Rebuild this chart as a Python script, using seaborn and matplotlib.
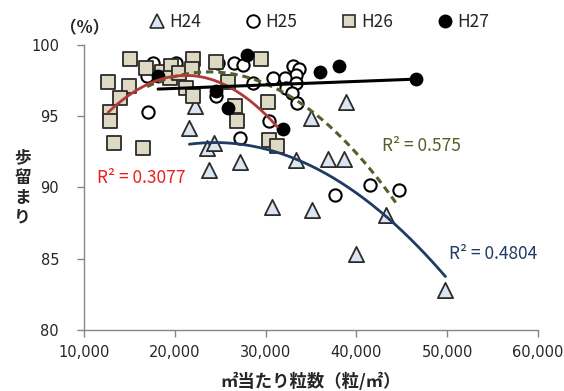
import numpy as np
import pandas as pd
import matplotlib
matplotlib.use("Agg")
import matplotlib.pyplot as plt
from matplotlib.lines import Line2D
from matplotlib.ticker import FuncFormatter
import seaborn as sns

# grains per m2 (x) and ripening ratio % (y), by year
h24_x = [22200, 21600, 23500, 24300, 23800, 27200, 30700, 35100, 33300, 35000,
         38800, 36900, 38600, 43200, 39900, 49800]
h24_y = [95.7, 94.2, 92.8, 93.1, 91.2, 91.8, 88.6, 88.4, 91.9, 94.9,
         96.0, 92.0, 92.0, 88.1, 85.3, 82.8]

h25_x = [17060, 17610, 16950, 20150, 24780, 26550, 27540, 24560, 28640, 30850,
         30410, 27210, 33050, 33710, 33380, 32170, 33380, 32280, 32940, 33490,
         37690, 41440, 44640]
h25_y = [95.3, 98.7, 97.8, 98.7, 98.7, 98.7, 98.6, 96.4, 97.3, 97.7,
         94.7, 93.5, 98.5, 98.3, 97.9, 97.7, 97.3, 97.0, 96.6, 95.9,
         89.5, 90.2, 89.8]

h26_x = [15070, 12650, 14960, 13970, 12870, 12870, 13310, 16510, 16840, 18600,
         19600, 19490, 20480, 22020, 21910, 21250, 22020, 24560, 29520, 25880,
         26660, 26880, 30300, 30410, 31290]
h26_y = [99.0, 97.4, 97.1, 96.3, 95.3, 94.7, 93.1, 92.8, 98.4, 98.1,
         98.5, 97.7, 98.0, 99.0, 98.3, 97.0, 96.4, 98.8, 99.0, 97.4,
         95.7, 94.7, 96.0, 93.3, 92.9]

h27_x = [18160, 24560, 25880, 27980, 31950, 36030, 38130, 46510]
h27_y = [97.8, 96.8, 95.6, 99.3, 94.1, 98.1, 98.5, 97.6]

years = ["H24", "H25", "H26", "H27"]
r2_labels = {"H24": "R² = 0.4804", "H25": "R² = 0.575", "H26": "R² = 0.3077"}

x_ticks = [10000, 20000, 30000, 40000, 50000, 60000]
y_ticks = [80, 85, 90, 95, 100]

sns.set_theme(style="white")
plt.rcParams["font.family"] = ["Noto Sans CJK JP", "DejaVu Sans"]

fig = plt.figure(figsize=(5.64, 3.91), dpi=100)
ax = fig.add_axes([0.149, 0.156, 0.805, 0.729])

series = {
    "H24": (h24_x, h24_y),
    "H25": (h25_x, h25_y),
    "H26": (h26_x, h26_y),
    "H27": (h27_x, h27_y),
}
marker_style = {
    "H24": dict(marker="^", s=120, color="#dce6f2", edgecolor="#2b2b2b", linewidth=1.3),
    "H25": dict(marker="o", s=78, color="white", edgecolor="black", linewidth=1.5),
    "H26": dict(marker="s", s=88, color="#ddd9c3", edgecolor="#2b2b2b", linewidth=1.3),
    "H27": dict(marker="o", s=80, color="black", edgecolor="black", linewidth=1.0),
}
trend_style = {
    "H24": dict(color="#1f3b63", linewidth=2.0, linestyle="-", deg=2),
    "H25": dict(color="#4f6228", linewidth=2.2, linestyle=(0, (2.4, 1.6)), deg=2),
    "H26": dict(color="#b03a3a", linewidth=2.0, linestyle="-", deg=2),
    "H27": dict(color="black", linewidth=2.2, linestyle="-", deg=1),
}

for yr in years:
    xs, ys = series[yr]
    df = pd.DataFrame({"x": xs, "y": ys})
    sns.scatterplot(data=df, x="x", y="y", ax=ax, zorder=3, **marker_style[yr])

# least-squares trend lines over each year's range
for yr in years:
    xs, ys = series[yr]
    st = trend_style[yr]
    coef = np.polyfit(xs, ys, st["deg"])
    gx = np.linspace(min(xs), max(xs), 200)
    line = pd.DataFrame({"x": gx, "y": np.polyval(coef, gx)})
    sns.lineplot(data=line, x="x", y="y", ax=ax, color=st["color"],
                 linewidth=st["linewidth"], linestyle=st["linestyle"],
                 estimator=None, sort=False, zorder=4)

ax.text(11400, 90.7, r2_labels["H26"], color="#e8201e", fontsize=12.5,
        ha="left", va="center")
ax.text(47200, 92.9, r2_labels["H25"], color="#4f6228", fontsize=12.5,
        ha="center", va="center")
ax.text(55000, 85.3, r2_labels["H24"], color="#1f3b63", fontsize=12.5,
        ha="center", va="center")

ax.set_xlim(x_ticks[0], x_ticks[-1])
ax.set_ylim(y_ticks[0], y_ticks[-1])
ax.set_xticks(x_ticks)
ax.set_yticks(y_ticks)
ax.xaxis.set_major_formatter(FuncFormatter(lambda v, p: f"{int(v):,}"))
ax.tick_params(axis="both", which="major", direction="out", length=5, width=1,
               color="#868686", labelcolor="#262626", bottom=True, left=True)
ax.tick_params(axis="x", pad=6)
ax.tick_params(axis="y", pad=13)
for lbl in ax.get_xticklabels() + ax.get_yticklabels():
    lbl.set_fontfamily("DejaVu Sans")
    lbl.set_fontsize(10.5)
for side in ["top", "right"]:
    ax.spines[side].set_visible(False)
for side in ["left", "bottom"]:
    ax.spines[side].set_color("#868686")
    ax.spines[side].set_linewidth(1.0)
ax.set_xlabel("㎡当たり粒数（粒/㎡）", fontsize=12.5, fontweight="bold",
              labelpad=9)
ax.set_ylabel("")
fig.text(0.04, 0.52, "歩\n留\nま\nり", fontsize=12, fontweight="bold",
         ha="center", va="center", linespacing=1.15)
fig.text(0.15, 0.928, "（%）", fontsize=12, fontweight="bold",
         ha="center", va="center")

handles = [
    Line2D([], [], linestyle="", marker="^", markersize=10,
           markerfacecolor="#dce6f2", markeredgecolor="#2b2b2b", markeredgewidth=1.2),
    Line2D([], [], linestyle="", marker="o", markersize=9,
           markerfacecolor="white", markeredgecolor="black", markeredgewidth=1.4),
    Line2D([], [], linestyle="", marker="s", markersize=9,
           markerfacecolor="#ddd9c3", markeredgecolor="#2b2b2b", markeredgewidth=1.2),
    Line2D([], [], linestyle="", marker="o", markersize=9,
           markerfacecolor="black", markeredgecolor="black"),
]
fig.legend(handles, years, loc="center", bbox_to_anchor=(0.567, 0.944), ncol=4,
           frameon=False, fontsize=12.5, handlelength=0.8, handletextpad=0.3,
           columnspacing=2.6)

fig.savefig("out.png", dpi=100)
